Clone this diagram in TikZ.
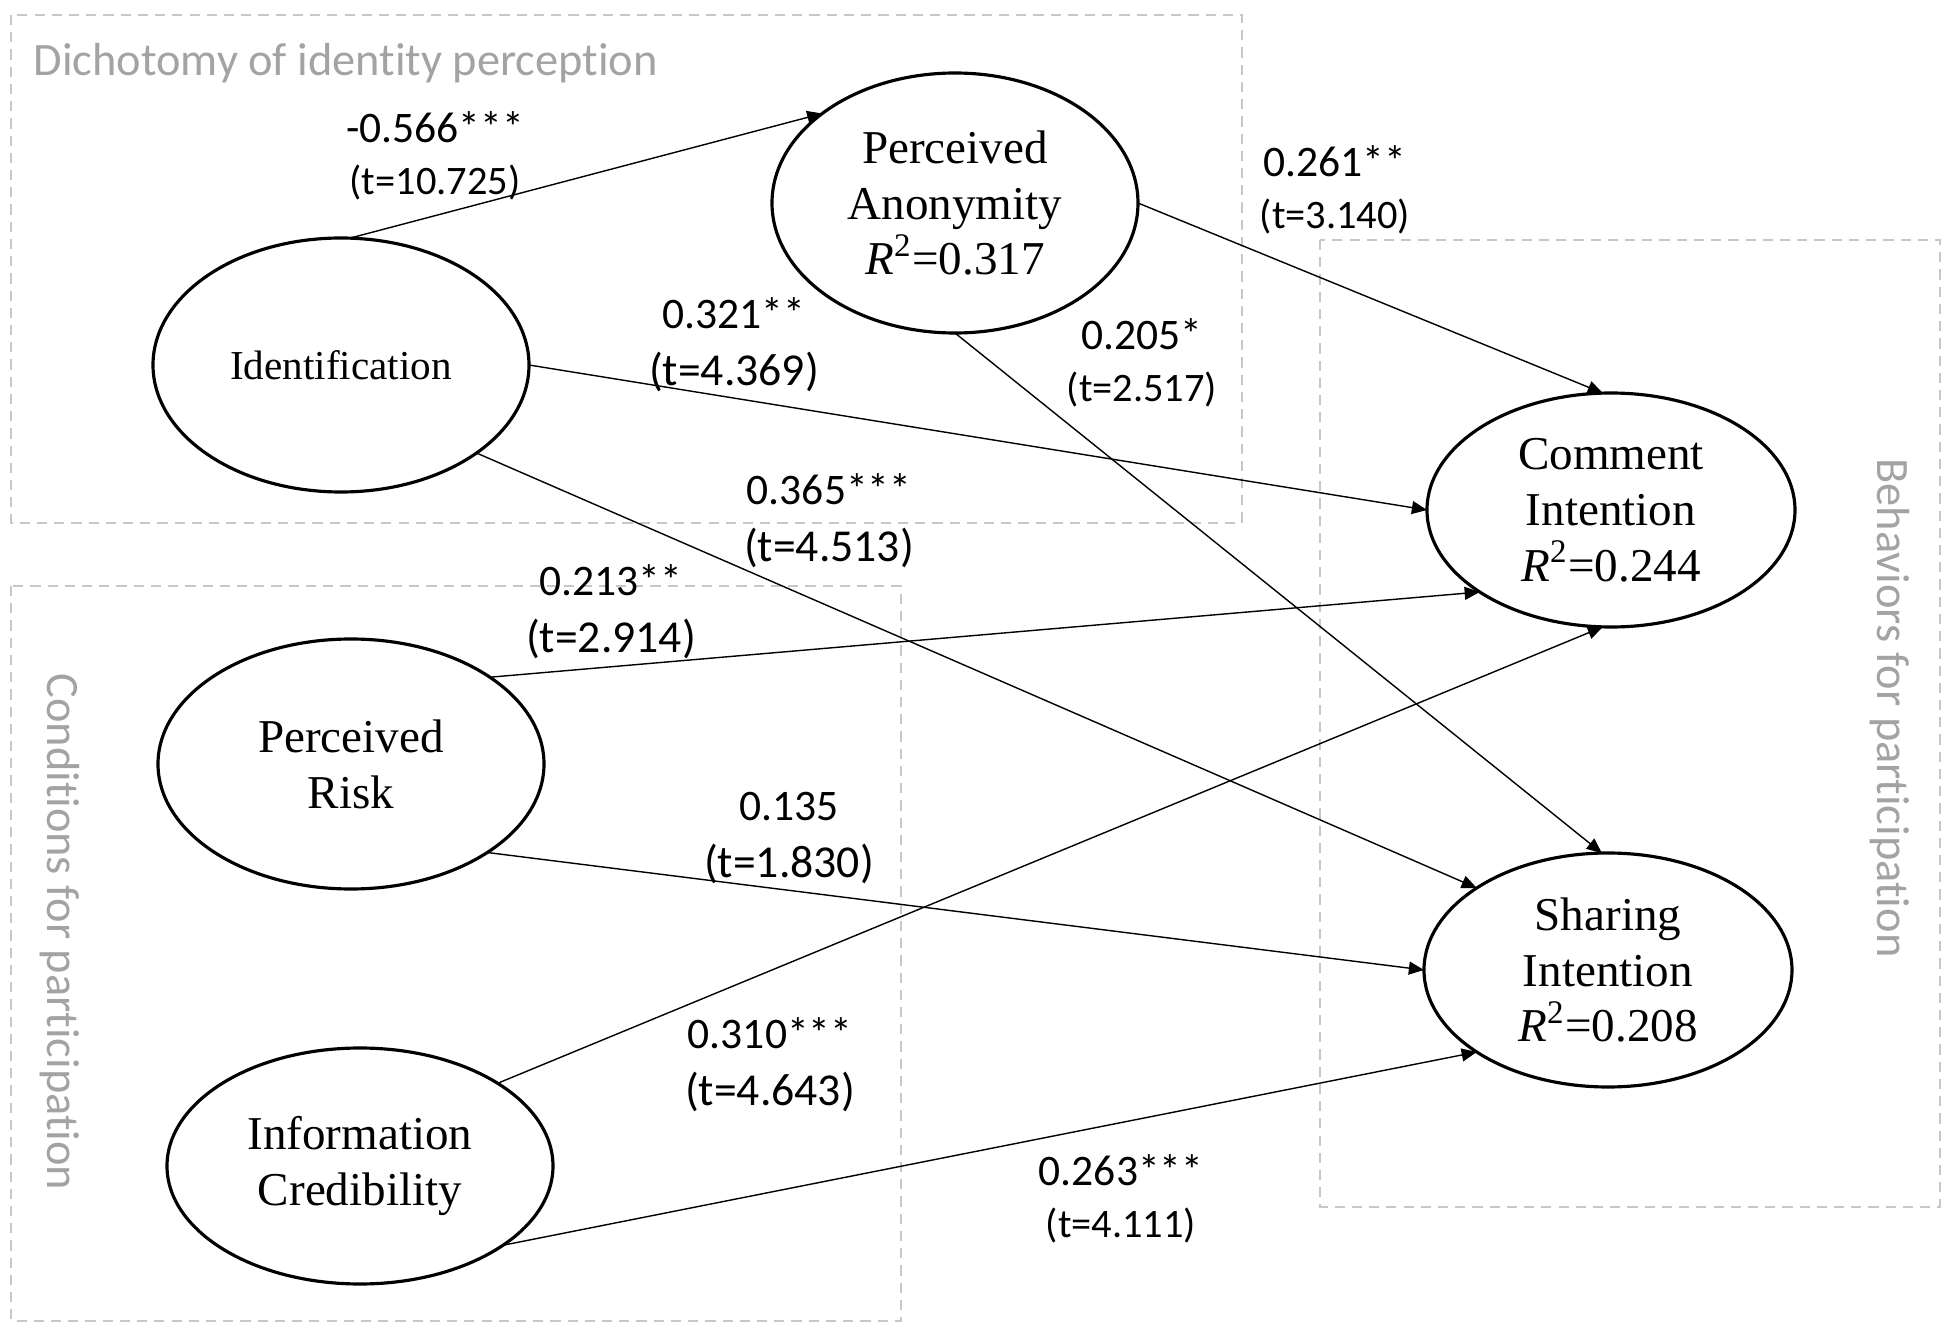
\documentclass[tikz,border=0pt]{standalone}
\usepackage{fontspec}
\setmainfont{Liberation Serif}
\newfontfamily\labelfont[Ligatures=NoCommon]{Carlito}
\usetikzlibrary{arrows.meta,shapes.geometric}
\definecolor{boxgray}{gray}{0.78}
\definecolor{titlegray}{gray}{0.64}
\tikzset{
construct/.style={ellipse,draw,line width=0.9pt,inner sep=0pt,outer sep=0pt,align=center,font=\fontsize{13.4}{15.9}\selectfont},
groupbox/.style={draw=boxgray,line width=0.6pt,dash pattern=on 2.9pt off 2pt},
grouptitle/.style={text=titlegray,inner sep=0pt,font=\labelfont\fontsize{13.2}{15}\selectfont},
arr/.style={-{Triangle[length=4.3pt,width=3.7pt]},line width=0.4pt},
coef/.style={align=center,inner sep=0pt,font=\labelfont\fontsize{12.4}{16.2}\selectfont},
coef small/.style={coef,font=\labelfont\fontsize{12.4}{14.8}\selectfont},
}
\newcommand{\tbig}{\fontsize{13}{16.2}\selectfont}
\newcommand{\tsmall}{\fontsize{11.5}{14.8}\selectfont}
\newcommand{\Rsq}{\textit{R}\textsuperscript{2}}

\begin{document}
\begin{tikzpicture}
        \useasboundingbox (0,0) rectangle (19.5,-13.28);

        % groups
        \draw[groupbox] (0.11,-0.15) rectangle (12.42,-5.23);
        \draw[groupbox] (13.20,-2.40) rectangle (19.40,-12.07);
        \draw[groupbox] (0.11,-5.86) rectangle (9.01,-13.21);
        \node[grouptitle,anchor=base west] (dichotomy) at (0.33,-0.76) {Dichotomy of identity perception};
        \node[grouptitle,rotate=-90,anchor=base] (conditions) at (0.48,-9.32) {Conditions for participation};
        \node[grouptitle,rotate=-90,anchor=base] (behaviors) at (18.77,-7.08) {Behaviors for participation};

        % constructs
        \node[construct,minimum width=3.76cm,minimum height=2.54cm,font=\fontsize{11.7}{14}\selectfont]
        (id) at (3.41,-3.65) {Identification};
        \node[construct,minimum width=3.66cm,minimum height=2.60cm]
        (pa) at (9.55,-2.03) {Perceived\\Anonymity\\\Rsq=0.317};
        \node[construct,minimum width=3.68cm,minimum height=2.34cm]
        (ci) at (16.11,-5.10) {Comment\\Intention\\\Rsq=0.244};
        \node[construct,minimum width=3.86cm,minimum height=2.50cm]
        (pr) at (3.51,-7.64) {Perceived\\Risk};
        \node[construct,minimum width=3.86cm,minimum height=2.36cm]
        (ic) at (3.60,-11.66) {Information\\Credibility};
        \node[construct,minimum width=3.68cm,minimum height=2.34cm]
        (si) at (16.08,-9.70) {Sharing\\Intention\\\Rsq=0.208};

        % paths
        \draw[arr] (id.86) -- (pa.146);
        \draw[arr] (id.east) -- (ci.west);
        \draw[arr] (id.-33.5) -- (si.148);
        \draw[arr] (pa.east) -- (ci.94);
        \draw[arr] (pa.south) -- (si.93);
        \draw[arr] (pr.32) -- (ci.212);
        \draw[arr] (pr.-33) -- (si.west);
        \draw[arr] (ic.31) -- (ci.266);
        \draw[arr] (ic.-29) -- (si.212);

        % coefficients
        \node[coef small] (idpa) at (4.35,-1.56) {-0.566***\\{\tsmall(t=10.725)}};
        \node[coef small] (paci) at (13.35,-1.90) {0.261**\\{\tsmall(t=3.140)}};
        \node[coef] (idci) at (7.34,-3.45) {0.321**\\{\tbig(t=4.369)}};
        \node[coef small] (pasi) at (11.42,-3.63) {0.205*\\{\tsmall(t=2.517)}};
        \node[coef] (idsi) at (8.29,-5.21) {0.365***\\{\tbig(t=4.513)}};
        \node[coef] (prci) at (6.11,-6.12) {0.213**\\{\tbig(t=2.914)}};
        \node[coef] (prsi) at (7.89,-8.38) {0.135\\{\tbig(t=1.830)}};
        \node[coef] (icci) at (7.70,-10.65) {0.310***\\{\tbig(t=4.643)}};
        \node[coef small] (icsi) at (11.21,-11.99) {0.263***\\{\tsmall(t=4.111)}};
    \end{tikzpicture}
\end{document}
